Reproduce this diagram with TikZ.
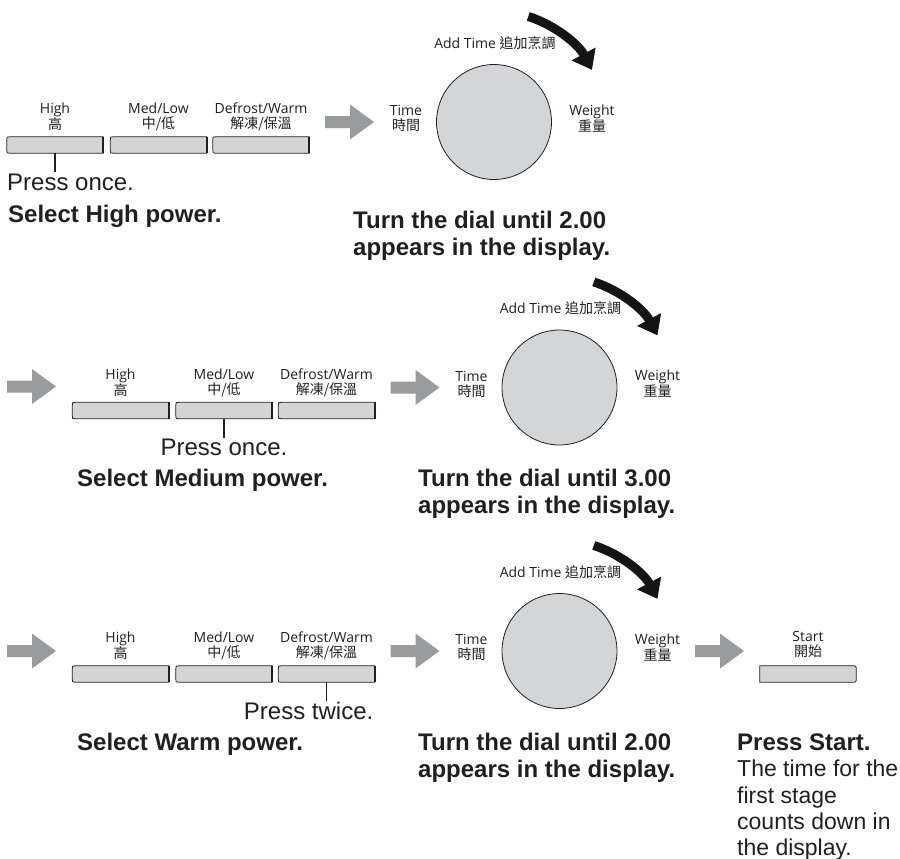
\documentclass[tikz,border=0pt]{standalone}
\usepackage{fontspec}
\setmainfont{Liberation Sans}
\newfontfamily\lblfont{Open Sans}
\newfontfamily\cjkfont{Noto Sans CJK TC}
\usetikzlibrary{calc,arrows.meta}
\definecolor{txt}{HTML}{231F20}
\definecolor{btnfill}{HTML}{D3D4D6}
\definecolor{agray}{HTML}{9A9B9D}
\definecolor{dialfill}{HTML}{D4D5D7}
\tikzset{
  lbl/.style={align=center, font=\lblfont\fontsize{14}{15}\selectfont, inner sep=0, text=txt},
  btnbox/.style={minimum width=96pt, minimum height=16pt, inner sep=0},
  btnline/.style={draw=txt, line width=0.8pt, fill=btnfill},
  big/.style={font=\fontsize{24}{27}\selectfont, inner sep=0, anchor=base west, text=txt},
  bigb/.style={big, font=\bfseries\fontsize{24}{27}\selectfont},
  small/.style={big, font=\fontsize{23}{26}\selectfont},
  ticks/.style={draw=txt, line width=1.8pt},
  dialc/.style={circle, draw=txt, line width=0.8pt, fill=dialfill, minimum size=115pt, inner sep=0},
  turnarrow/.style={line width=9pt, draw=black!92, -{Triangle[length=18pt,width=26pt]}},
}
\newcommand\leftbtn[1]{%
  \path[btnline] (#1.north east) -- ($(#1.north west)+(3pt,0pt)$) .. controls (#1.north west) .. ($(#1.north west)+(0pt,-3pt)$)
    -- ($(#1.south west)+(0pt,3pt)$) .. controls (#1.south west) .. ($(#1.south west)+(3pt,0pt)$) -- (#1.south east) -- cycle;
  \draw[draw=txt, line width=1.6pt] (#1.north east) -- (#1.south east);
}
\newcommand\rightbtn[1]{%
  \path[btnline] (#1.north west) -- ($(#1.north east)+(-4pt,0pt)$) .. controls (#1.north east) .. ($(#1.north east)+(0pt,-4pt)$)
    -- ($(#1.south east)+(0pt,4pt)$) .. controls (#1.south east) .. ($(#1.south east)+(-4pt,0pt)$) -- (#1.south west) -- cycle;
}
\newcommand\garrow[1]{%
  \fill[agray] ($(#1)+(0pt,6pt)$) -- ++(25pt,0pt) -- ++(0pt,11.5pt) -- ++(24pt,-17.5pt) -- ++(-24pt,-17.5pt) -- ++(0pt,11.5pt) -- ++(-25pt,0pt) -- cycle;
}
\newcommand\buttonrow[1]{%
  \node[lbl] (lh#1) at (55,117) {High\\{\cjkfont 高}};
  \node[lbl] (lm#1) at (158.5,117) {Med/Low\\{\cjkfont 中/低}};
  \node[lbl] (ld#1) at (261,117) {Defrost/Warm\\{\cjkfont 解凍/保溫}};
  \node[btnbox] (bh#1) at (55,145) {}; \leftbtn{bh#1}
  \node[btnbox] (bm#1) at (158.5,145) {}; \leftbtn{bm#1}
  \node[btnbox] (bd#1) at (261,145) {}; \leftbtn{bd#1}
}
\newcommand\dialgroup[1]{%
  \node[dialc] (d#1) at (494,122) {};
  \node[lbl] (tl#1) at (406,118.5) {Time\\{\cjkfont 時間}};
  \node[lbl] (wl#1) at (592,118.5) {Weight\\{\cjkfont 重量}};
  \node[lbl] (al#1) at (495,43) {Add Time {\cjkfont 追加烹調}};
  \draw[turnarrow] ($(d#1.center)+(72:111pt)$) arc[start angle=72, end angle=28, radius=111pt];
  \coordinate (ga#1) at (325,122); \garrow{ga#1}
}
\begin{document}
\begin{tikzpicture}[x=1pt, y=-1pt]
\useasboundingbox[fill=white] (0,0) rectangle (900,859);
% ---------- row 1
\buttonrow{1}
\dialgroup{1}
\coordinate (tk1) at (55,172);
\draw[ticks] (bh1.south) -- (tk1);
\node[big] (p1) at (7,190) {Press once.};
\node[bigb] (s1) at (8,222) {Select High power.};
\node[bigb] (ta1) at (353,228) {Turn the dial until 2.00};
\node[bigb] (tb1) at (353,255) {appears in the display.};
% ---------- row 2
\begin{scope}[shift={(65.5,265.5)}]
\coordinate (la2) at (-58.5,121); \garrow{la2}
\buttonrow{2}
\dialgroup{2}
\coordinate (tk2) at (158.5,172);
\draw[ticks] (bm2.south) -- (tk2);
\node[big, anchor=base] (p2) at (158.5,189.5) {Press once.};
\node[bigb] (s2) at (11.5,221) {Select Medium power.};
\node[bigb] (ta2) at (352.5,221) {Turn the dial until 3.00};
\node[bigb] (tb2) at (352.5,248) {appears in the display.};
\end{scope}
% ---------- row 3
\begin{scope}[shift={(65.5,529)}]
\coordinate (la3) at (-58.5,122); \garrow{la3}
\buttonrow{3}
\dialgroup{3}
\coordinate (tk3) at (261,172);
\draw[ticks] (bd3.south) -- (tk3);
\node[big, anchor=base east] (p3) at (308,190) {Press twice.};
\node[bigb] (s3) at (11.5,221) {Select Warm power.};
\node[bigb] (ta3) at (352.5,221) {Turn the dial until 2.00};
\node[bigb] (tb3) at (352.5,248) {appears in the display.};
\coordinate (sa3) at (629.5,122); \garrow{sa3}
\node[lbl] (sl3) at (742.5,115.5) {Start\\{\cjkfont 開始}};
\node[btnbox] (bs3) at (742.5,145) {}; \rightbtn{bs3}
\node[bigb] (ps3) at (671.5,221) {Press Start.};
\node[small] (pl1) at (671.5,247.5) {The time for the};
\node[small] (pl2) at (671.5,274) {first stage};
\node[small] (pl3) at (671.5,300.5) {counts down in};
\node[small] (pl4) at (671.5,326) {the display.};
\end{scope}
\end{tikzpicture}
\end{document}
